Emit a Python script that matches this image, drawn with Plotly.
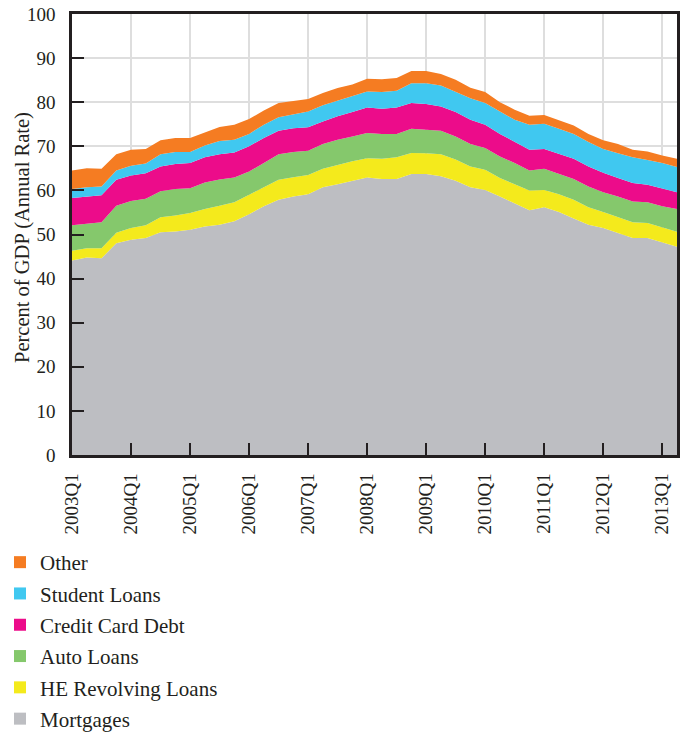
import plotly.graph_objects as go

quarters = [f"{y}Q{q}" for y in range(2003, 2014) for q in range(1, 5)][:42]
tick_labels = [f"{y}Q1" for y in range(2003, 2014)]

mortgages = [44.1, 44.8, 44.6, 48.0, 48.8, 49.2, 50.5, 50.7, 51.1, 51.8, 52.2, 53.0, 54.6, 56.4,
             57.9, 58.6, 59.1, 60.7, 61.4, 62.2, 62.9, 62.6, 62.6, 63.7, 63.7, 63.2, 62.2, 60.7,
             60.1, 58.6, 57.0, 55.5, 56.2, 55.1, 53.6, 52.2, 51.5, 50.3, 49.2, 49.2, 48.2, 47.2]
he_revolving = [2.2, 2.1, 2.3, 2.4, 2.7, 2.9, 3.4, 3.6, 3.8, 4.0, 4.3, 4.3, 4.4, 4.3,
                4.5, 4.4, 4.4, 4.2, 4.4, 4.4, 4.4, 4.6, 4.9, 4.8, 4.7, 5.0, 4.8, 4.7,
                4.6, 4.2, 4.4, 4.5, 3.9, 4.0, 4.3, 4.0, 3.6, 3.6, 3.6, 3.4, 3.4, 3.4]
auto_loans = [5.8, 5.5, 5.9, 6.1, 6.1, 6.0, 5.9, 6.0, 5.6, 6.0, 6.0, 5.6, 5.3, 5.5,
              5.8, 5.7, 5.5, 5.6, 5.7, 5.6, 5.7, 5.6, 5.3, 5.5, 5.3, 5.3, 5.2, 5.1,
              4.9, 4.9, 4.8, 4.5, 4.8, 4.6, 4.7, 4.7, 4.5, 4.7, 4.7, 4.7, 4.8, 5.2]
credit_card = [6.2, 6.2, 6.1, 5.9, 5.8, 5.8, 5.6, 5.7, 5.7, 5.7, 5.7, 5.7, 5.7, 5.7,
               5.3, 5.4, 5.3, 5.1, 5.3, 5.6, 5.8, 5.7, 6.0, 5.8, 5.9, 5.5, 5.6, 5.5,
               5.3, 5.1, 4.8, 4.7, 4.5, 4.6, 4.6, 4.5, 4.4, 4.2, 4.2, 4.0, 4.0, 3.8]
student_loans = [2.0, 2.1, 2.0, 2.1, 2.2, 2.2, 2.8, 2.7, 2.5, 2.7, 3.0, 2.9, 2.8, 3.0,
                 3.1, 3.2, 3.6, 3.7, 3.5, 3.5, 3.6, 3.8, 3.8, 4.5, 4.7, 4.8, 4.6, 4.9,
                 4.9, 5.1, 5.0, 5.7, 5.7, 5.7, 5.6, 5.6, 5.4, 5.6, 5.8, 5.6, 5.8, 5.7]
other = [4.2, 4.3, 4.0, 3.7, 3.6, 3.3, 3.2, 3.2, 3.2, 3.0, 3.2, 3.4, 3.4, 3.2,
         3.2, 3.0, 2.8, 2.8, 2.9, 2.7, 2.9, 2.9, 2.9, 2.8, 2.8, 2.6, 2.7, 2.4,
         2.5, 2.1, 2.3, 2.0, 2.0, 1.9, 1.9, 1.8, 2.0, 2.1, 1.7, 1.9, 1.7, 1.9]

y_title = "Percent of GDP (Annual Rate)"

series = [
    ("Mortgages", mortgages, "#BDBEC2"),
    ("HE Revolving Loans", he_revolving, "#F4EA1C"),
    ("Auto Loans", auto_loans, "#85C86C"),
    ("Credit Card Debt", credit_card, "#EC0C8A"),
    ("Student Loans", student_loans, "#40C8F0"),
    ("Other", other, "#F57C22"),
]

x_idx = list(range(len(quarters)))
fig = go.Figure()
for name, vals, col in series:
    fig.add_trace(go.Scatter(
        x=x_idx, y=vals, name=name, stackgroup="one", mode="lines",
        line=dict(width=0, color=col), fillcolor=col, showlegend=False,
        hovertext=quarters,
    ))
for name, vals, col in reversed(series):
    fig.add_trace(go.Scatter(
        x=[None], y=[None], name=name, mode="markers", legendgroup=name,
        marker=dict(symbol="square", size=12, color=col), showlegend=True,
    ))

font = "Liberation Serif"
fig.update_layout(
    width=683, height=732,
    margin=dict(l=72, r=6, t=14, b=277, autoexpand=False),
    paper_bgcolor="white", plot_bgcolor="white",
    font=dict(family=font, size=19, color="#231F20"),
    showlegend=True,
    legend=dict(
        orientation="v", xref="container", yref="container",
        x=0, xanchor="left", y=1 - 542 / 732, yanchor="top",
        traceorder="grouped", tracegroupgap=1,
        font=dict(family=font, size=21, color="#231F20"),
        bgcolor="rgba(0,0,0,0)", itemclick=False,
    ),
    xaxis=dict(
        range=[0, 41], tickmode="array",
        tickvals=[4 * i for i in range(len(tick_labels))], ticktext=tick_labels,
        tickangle=-90, ticks="inside", ticklen=12, tickwidth=2, tickcolor="#231F20",
        showgrid=True, gridcolor="#DEDEDE", gridwidth=2,
        showline=True, linecolor="#231F20", linewidth=2.5, mirror=True,
        zeroline=False, ticklabelstandoff=8, automargin=False,
        tickfont=dict(family=font, size=19),
    ),
    yaxis=dict(
        range=[0, 100], tickmode="linear", tick0=0, dtick=10,
        ticks="inside", ticklen=12, tickwidth=2, tickcolor="#231F20",
        showgrid=True, gridcolor="#DEDEDE", gridwidth=2,
        showline=True, linecolor="#231F20", linewidth=2.5, mirror=True,
        zeroline=False, ticklabelstandoff=10, automargin=False,
        tickfont=dict(family=font, size=19),
    ),
    annotations=[dict(
        text=y_title, xref="paper", yref="paper", x=0, y=(455 - 238) / 441,
        xanchor="center", yanchor="middle", xshift=-50, textangle=-90,
        showarrow=False, font=dict(family=font, size=20.5, color="#231F20"),
    )],
)

fig.write_html("out.html", config={"displayModeBar": False},
               post_script="document.body.style.margin='0';")
